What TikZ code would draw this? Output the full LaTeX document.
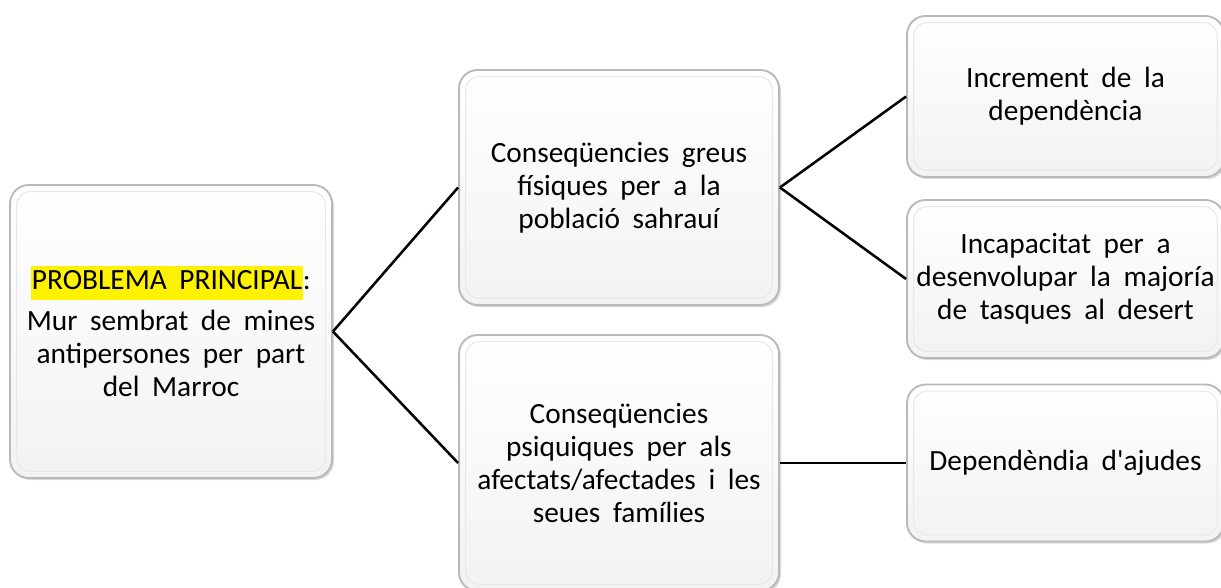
\documentclass[tikz,border=0pt]{standalone}
\usepackage{fontspec}
\setmainfont{Carlito}[WordSpace=1.9]
\usetikzlibrary{shadows}

\tikzset{
  box/.style={rectangle, rounded corners=14pt, draw=gray!55, line width=1.4pt,
    top color=white, bottom color=gray!10, align=center, inner sep=0pt,
    font=\fontsize{22}{24.8}\selectfont,
    drop shadow={shadow xshift=1.5pt, shadow yshift=-1.5pt, opacity=0.3, fill=gray},
    path picture={\draw[gray!18, line width=0.8pt, rounded corners=10pt]
      ([shift={(5pt,-5pt)}]path picture bounding box.north west) rectangle
      ([shift={(-5pt,5pt)}]path picture bounding box.south east);}},
  link/.style={draw=black, line width=1.9pt}
}
\setlength{\fboxsep}{0.5pt}

\begin{document}
\begin{tikzpicture}[x=0.75pt, y=-0.75pt]
\useasboundingbox (0,0) rectangle (1221,588);
\clip (0,0) rectangle (1221,588);

% boxes
\node (P)[box, minimum width=322*0.75pt, minimum height=293*0.75pt] at (171,331.5)
  {\colorbox{yellow}{\strut PROBLEMA PRINCIPAL}:\\[6pt]
   Mur sembrat de mines\\ antipersones per part\\ del Marroc};
\node (F)[box, minimum width=320*0.75pt, minimum height=235*0.75pt] at (619,187.5)
  {Conseqüencies greus\\ físiques per a la\\ població sahrauí};
\node (S)[box, minimum width=320*0.75pt, minimum height=256*0.75pt] at (619,463)
  {Conseqüencies\\ psiquiques per als\\ afectats/afectades i les\\ seues famílies};
\node (D1)[box, minimum width=317*0.75pt, minimum height=161*0.75pt] at (1065.5,96.5)
  {Increment de la\\ dependència};
\node (D2)[box, minimum width=317*0.75pt, minimum height=158*0.75pt] at (1065.5,279)
  {Incapacitat per a\\ desenvolupar la majoría\\ de tasques al desert};
\node (D3)[box, minimum width=317*0.75pt, minimum height=157*0.75pt] at (1065.5,463)
  {Dependèndia d\textquotesingle ajudes};

% connectors
\path[link] (P.east) -- (F.west);
\path[link] (P.east) -- (S.west);
\path[link] (F.east) -- (D1.west);
\path[link] (F.east) -- (D2.west);
\path[link] (S.east) -- (D3.west);
\end{tikzpicture}
\end{document}
